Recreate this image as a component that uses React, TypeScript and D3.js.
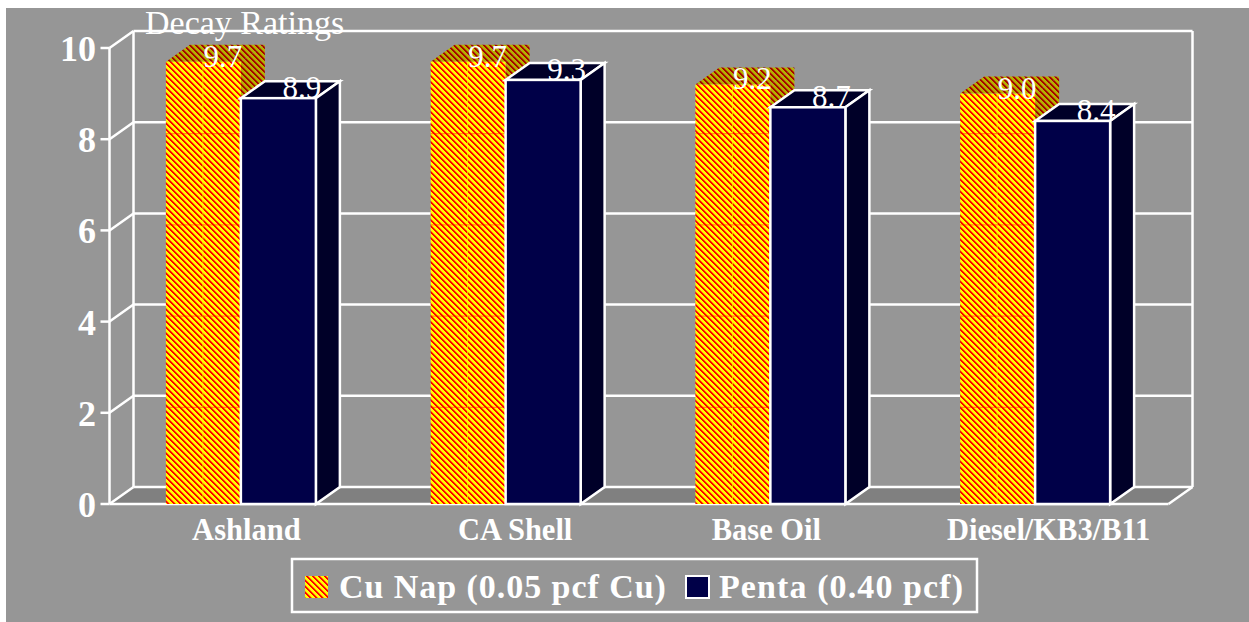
import React from "react";
import * as d3 from "d3";

const categories = ["Ashland", "CA Shell", "Base Oil", "Diesel/KB3/B11"];
const cuNap = [9.7, 9.7, 9.2, 9.0];
const penta = [8.9, 9.3, 8.7, 8.4];
const cuLabels = ["9.7", "9.7", "9.2", "9.0"];
const pentaLabels = ["8.9", "9.3", "8.7", "8.4"];
const yTicks = [0, 2, 4, 6, 8, 10];
const seriesNames = ["Cu Nap (0.05 pcf Cu)", "Penta (0.40 pcf)"];
const chartTitle = "Decay Ratings";

const W = 1249, H = 622;
const DX = 24, DY = -17;
const FONT = "'Liberation Serif', serif";
const x0 = d3.scaleBand<string>().domain(categories).range([109.5, 1168.5]);
const y = d3.scaleLinear().domain([0, 10]).range([504, 48]);
const BARW = 75;
const SW = 2.5;
const labelShift = [5.5, 9.5, -4, 13.5];

const cells = d3.cross(d3.range(6), d3.range(6)).map(([i, j]) => ({ i, j, k: (i - j + 6) % 6 }));

function Hatch({ id, base, red, mid }: any) {
  return (
    <pattern id={id} width="6" height="6" patternUnits="userSpaceOnUse">
      <rect width="6" height="6" fill={base} />
      {cells.filter((c) => c.k < 3).map((c) => (
        <rect key={`${c.i}-${c.j}`} x={c.i} y={c.j} width={1} height={1} fill={c.k === 2 ? mid : red} shapeRendering="crispEdges" />
      ))}
    </pattern>
  );
}

function Bar({ x, v, fill, side, top, stroke }: any) {
  const yy = y(v), b = y(0);
  const pts = (a: number[][]) => a.map((p) => p.join(",")).join(" ");
  return (
    <g stroke={stroke} strokeWidth={stroke === "none" ? 0 : SW} strokeLinejoin="miter">
      <polygon points={pts([[x, yy], [x + DX, yy + DY], [x + BARW + DX, yy + DY], [x + BARW, yy]])} fill={top} />
      <polygon points={pts([[x + BARW, yy], [x + BARW + DX, yy + DY], [x + BARW + DX, b + DY], [x + BARW, b]])} fill={side} />
      <rect x={x} y={yy} width={BARW} height={b - yy} fill={fill} />
    </g>
  );
}

export default function App() {
  const xL = x0.range()[0], xR = x0.range()[1];
  const floor = y(0);
  return (
    <svg width={W} height={H} style={{ position: "absolute", left: 0, top: 0 }} fontFamily={FONT}>
      <defs>
        <Hatch id="hatch" base="#ffff00" red="#ff0000" mid="#ff9000" />
        <Hatch id="hatchDark" base="#b4b000" red="#a80000" mid="#ac6000" />
      </defs>
      <rect x={6} y={8} width={W - 6} height={H - 8} fill="#969696" />
      <polygon points={`${xL},${floor} ${xL + DX},${floor + DY} ${xR + DX},${floor + DY} ${xR},${floor}`} fill="#808080" />
      <g stroke="#fff" strokeWidth={SW} fill="none">
        {yTicks.map((t) => (
          <g key={t}>
            <line x1={xL + DX} x2={xR + DX} y1={y(t) + DY} y2={y(t) + DY} />
            <line x1={xL} x2={xL + DX} y1={y(t)} y2={y(t) + DY} />
            <line x1={xL - 9} x2={xL} y1={y(t)} y2={y(t)} />
          </g>
        ))}
        <line x1={xL} x2={xL} y1={y(0)} y2={y(10)} />
        <line x1={xL + DX} x2={xL + DX} y1={y(0) + DY} y2={y(10) + DY} />
        <line x1={xR + DX} x2={xR + DX} y1={y(0) + DY} y2={y(10) + DY} />
        <line x1={xL} x2={xR} y1={floor} y2={floor} />
        <line x1={xR} x2={xR + DX} y1={floor} y2={floor + DY} />
      </g>
      {categories.map((c, i) => {
        const xm = x0(c)! + x0.bandwidth() / 2 - 1;
        return (
          <g key={c}>
            <Bar x={xm - BARW} v={cuNap[i]} fill="url(#hatch)" side="url(#hatchDark)" top="url(#hatchDark)" stroke="none" />
            <line x1={xm - BARW + 37} x2={xm - BARW + 37} y1={y(cuNap[i])} y2={y(0)} stroke="#ffff00" strokeWidth={1} opacity={0.7} />
            {yTicks.filter((t) => t > 0 && t < 9).map((t) => (
              <line key={t} x1={xm - BARW} x2={xm} y1={y(t) - 5.5} y2={y(t) - 5.5} stroke="#ff0000" strokeWidth={1} opacity={0.5} />
            ))}
            <Bar x={xm} v={penta[i]} fill="#000048" side="#000028" top="#000028" stroke="#fff" />
            <text x={xm - BARW + 57} y={y(cuNap[i]) + 5} textAnchor="middle" fontSize={31} fill="#fff">{cuLabels[i]}</text>
            <text x={xm + 61} y={y(penta[i])} textAnchor="middle" fontSize={31} fill="#fff">{pentaLabels[i]}</text>
            <text x={xm + labelShift[i]} y={540} textAnchor="middle" fontSize={30.5} fontWeight="bold" fill="#fff">{c}</text>
          </g>
        );
      })}
      <text x={145} y={34} fontSize={34} fill="#fff">{chartTitle}</text>
      {yTicks.map((t) => (
        <text key={t} x={96} y={y(t) + 13} textAnchor="end" fontSize={36} fontWeight="bold" fill="#fff">{t}</text>
      ))}
      <rect x={292} y={559} width={685} height={53} fill="none" stroke="#fff" strokeWidth={SW} />
      <rect x={305} y={576} width={23} height={22} fill="url(#hatch)" />
      <rect x={686} y={576} width={23} height={22} fill="#000048" stroke="#fff" strokeWidth={2} />
      <text x={339} y={598} fontSize={34} fontWeight="bold" fill="#fff" letterSpacing={0.95}>{seriesNames[0]}</text>
      <text x={719} y={598} fontSize={34} fontWeight="bold" fill="#fff" letterSpacing={1.1}>{seriesNames[1]}</text>
    </svg>
  );
}
